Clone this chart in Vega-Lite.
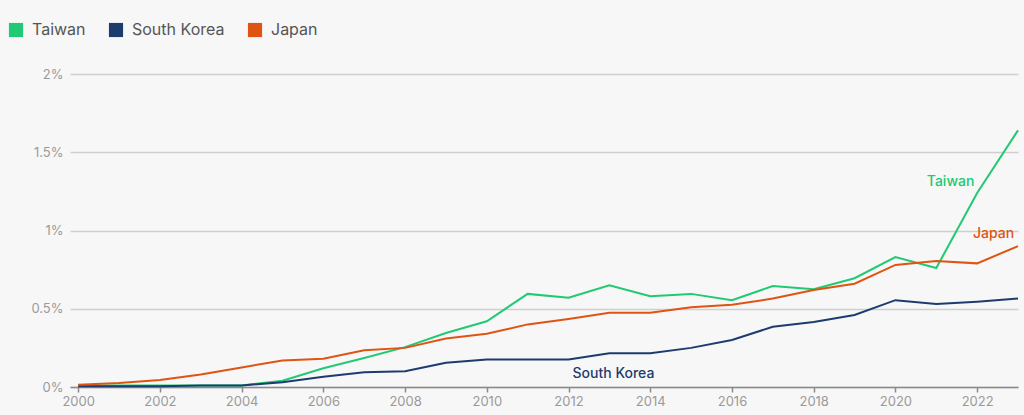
{
  "$schema": "https://vega.github.io/schema/vega-lite/v6.json",
  "autosize": {"type": "none"},
  "width": 948,
  "height": 313,
  "padding": {"left": 70, "top": 74, "right": 6, "bottom": 28},
  "background": "#f7f7f7",
  "config": {
    "view": {"stroke": null},
    "font": "Inter",
    "axis": {"labelFont": "Inter", "labelColor": "#9a9a9a", "labelFontSize": 13}
  },
  "datasets": {
    "series": [
      {"year": 2000, "country": "Taiwan", "value": 0.01},
      {"year": 2001, "country": "Taiwan", "value": 0.01},
      {"year": 2002, "country": "Taiwan", "value": 0.01},
      {"year": 2003, "country": "Taiwan", "value": 0.01},
      {"year": 2004, "country": "Taiwan", "value": 0.01},
      {"year": 2005, "country": "Taiwan", "value": 0.04},
      {"year": 2006, "country": "Taiwan", "value": 0.12},
      {"year": 2007, "country": "Taiwan", "value": 0.185},
      {"year": 2008, "country": "Taiwan", "value": 0.255},
      {"year": 2009, "country": "Taiwan", "value": 0.345},
      {"year": 2010, "country": "Taiwan", "value": 0.42},
      {"year": 2011, "country": "Taiwan", "value": 0.595},
      {"year": 2012, "country": "Taiwan", "value": 0.57},
      {"year": 2013, "country": "Taiwan", "value": 0.65},
      {"year": 2014, "country": "Taiwan", "value": 0.58},
      {"year": 2015, "country": "Taiwan", "value": 0.595},
      {"year": 2016, "country": "Taiwan", "value": 0.555},
      {"year": 2017, "country": "Taiwan", "value": 0.645},
      {"year": 2018, "country": "Taiwan", "value": 0.625},
      {"year": 2019, "country": "Taiwan", "value": 0.695},
      {"year": 2020, "country": "Taiwan", "value": 0.83},
      {"year": 2021, "country": "Taiwan", "value": 0.76},
      {"year": 2022, "country": "Taiwan", "value": 1.24},
      {"year": 2023, "country": "Taiwan", "value": 1.64},
      {"year": 2000, "country": "South Korea", "value": 0.005},
      {"year": 2001, "country": "South Korea", "value": 0.005},
      {"year": 2002, "country": "South Korea", "value": 0.005},
      {"year": 2003, "country": "South Korea", "value": 0.01},
      {"year": 2004, "country": "South Korea", "value": 0.01},
      {"year": 2005, "country": "South Korea", "value": 0.03},
      {"year": 2006, "country": "South Korea", "value": 0.065},
      {"year": 2007, "country": "South Korea", "value": 0.095},
      {"year": 2008, "country": "South Korea", "value": 0.1},
      {"year": 2009, "country": "South Korea", "value": 0.155},
      {"year": 2010, "country": "South Korea", "value": 0.175},
      {"year": 2011, "country": "South Korea", "value": 0.175},
      {"year": 2012, "country": "South Korea", "value": 0.175},
      {"year": 2013, "country": "South Korea", "value": 0.215},
      {"year": 2014, "country": "South Korea", "value": 0.215},
      {"year": 2015, "country": "South Korea", "value": 0.25},
      {"year": 2016, "country": "South Korea", "value": 0.3},
      {"year": 2017, "country": "South Korea", "value": 0.385},
      {"year": 2018, "country": "South Korea", "value": 0.415},
      {"year": 2019, "country": "South Korea", "value": 0.46},
      {"year": 2020, "country": "South Korea", "value": 0.555},
      {"year": 2021, "country": "South Korea", "value": 0.53},
      {"year": 2022, "country": "South Korea", "value": 0.545},
      {"year": 2023, "country": "South Korea", "value": 0.565},
      {"year": 2000, "country": "Japan", "value": 0.015},
      {"year": 2001, "country": "Japan", "value": 0.025},
      {"year": 2002, "country": "Japan", "value": 0.045},
      {"year": 2003, "country": "Japan", "value": 0.08},
      {"year": 2004, "country": "Japan", "value": 0.125},
      {"year": 2005, "country": "Japan", "value": 0.17},
      {"year": 2006, "country": "Japan", "value": 0.18},
      {"year": 2007, "country": "Japan", "value": 0.235},
      {"year": 2008, "country": "Japan", "value": 0.25},
      {"year": 2009, "country": "Japan", "value": 0.31},
      {"year": 2010, "country": "Japan", "value": 0.34},
      {"year": 2011, "country": "Japan", "value": 0.4},
      {"year": 2012, "country": "Japan", "value": 0.435},
      {"year": 2013, "country": "Japan", "value": 0.475},
      {"year": 2014, "country": "Japan", "value": 0.475},
      {"year": 2015, "country": "Japan", "value": 0.51},
      {"year": 2016, "country": "Japan", "value": 0.525},
      {"year": 2017, "country": "Japan", "value": 0.565},
      {"year": 2018, "country": "Japan", "value": 0.62},
      {"year": 2019, "country": "Japan", "value": 0.66},
      {"year": 2020, "country": "Japan", "value": 0.78},
      {"year": 2021, "country": "Japan", "value": 0.805},
      {"year": 2022, "country": "Japan", "value": 0.79},
      {"year": 2023, "country": "Japan", "value": 0.9}
    ],
    "labels": [
      {"year": 2021.35, "country": "Taiwan", "value": 1.31},
      {"year": 2022.4, "country": "Japan", "value": 0.98},
      {"year": 2013.1, "country": "South Korea", "value": 0.083}
    ]
  },
  "encoding": {
    "x": {
      "field": "year", "type": "quantitative",
      "scale": {"domain": [1999.8, 2023], "nice": false, "zero": false},
      "axis": {
        "values": [2000, 2002, 2004, 2006, 2008, 2010, 2012, 2014, 2016, 2018, 2020, 2022],
        "format": "d", "title": null, "grid": false,
        "domainColor": "#8a8a8a", "domainWidth": 1.5,
        "tickColor": "#8a8a8a", "tickWidth": 1.5, "tickSize": 5,
        "labelPadding": 3, "labelFontSize": 13
      }
    },
    "y": {
      "field": "value", "type": "quantitative",
      "scale": {"domain": [0, 2], "nice": false},
      "axis": {
        "values": [0, 0.5, 1, 1.5, 2],
        "labelExpr": "datum.value + '%'",
        "title": null, "domain": false, "ticks": false,
        "gridColor": "#cfcfcf", "gridWidth": 1.5,
        "labelPadding": 7, "labelFontSize": 13
      }
    },
    "color": {
      "field": "country", "type": "nominal",
      "scale": {"domain": ["Taiwan", "South Korea", "Japan"], "range": ["#22c974", "#1d3c6e", "#df5412"]}
    }
  },
  "layer": [
    {
      "data": {"name": "series"},
      "mark": {"type": "line", "strokeWidth": 2},
      "encoding": {
        "color": {
          "field": "country", "type": "nominal",
          "scale": {"domain": ["Taiwan", "South Korea", "Japan"], "range": ["#22c974", "#1d3c6e", "#df5412"]},
          "legend": {
            "title": null, "orient": "none", "direction": "horizontal",
            "legendX": -62, "legendY": -52,
            "symbolType": "square", "symbolSize": 200, "symbolStrokeWidth": 0,
            "symbolOpacity": 1,
            "labelFontSize": 16, "labelColor": "#555555", "labelFont": "Inter",
            "columnPadding": 22, "labelOffset": 8
          }
        }
      }
    },
    {
      "data": {"name": "labels"},
      "mark": {"type": "text", "fontSize": 14, "fontWeight": 500, "align": "center", "baseline": "middle"},
      "encoding": {
        "text": {"field": "country"},
        "color": {"field": "country", "type": "nominal", "legend": null}
      }
    }
  ]
}
